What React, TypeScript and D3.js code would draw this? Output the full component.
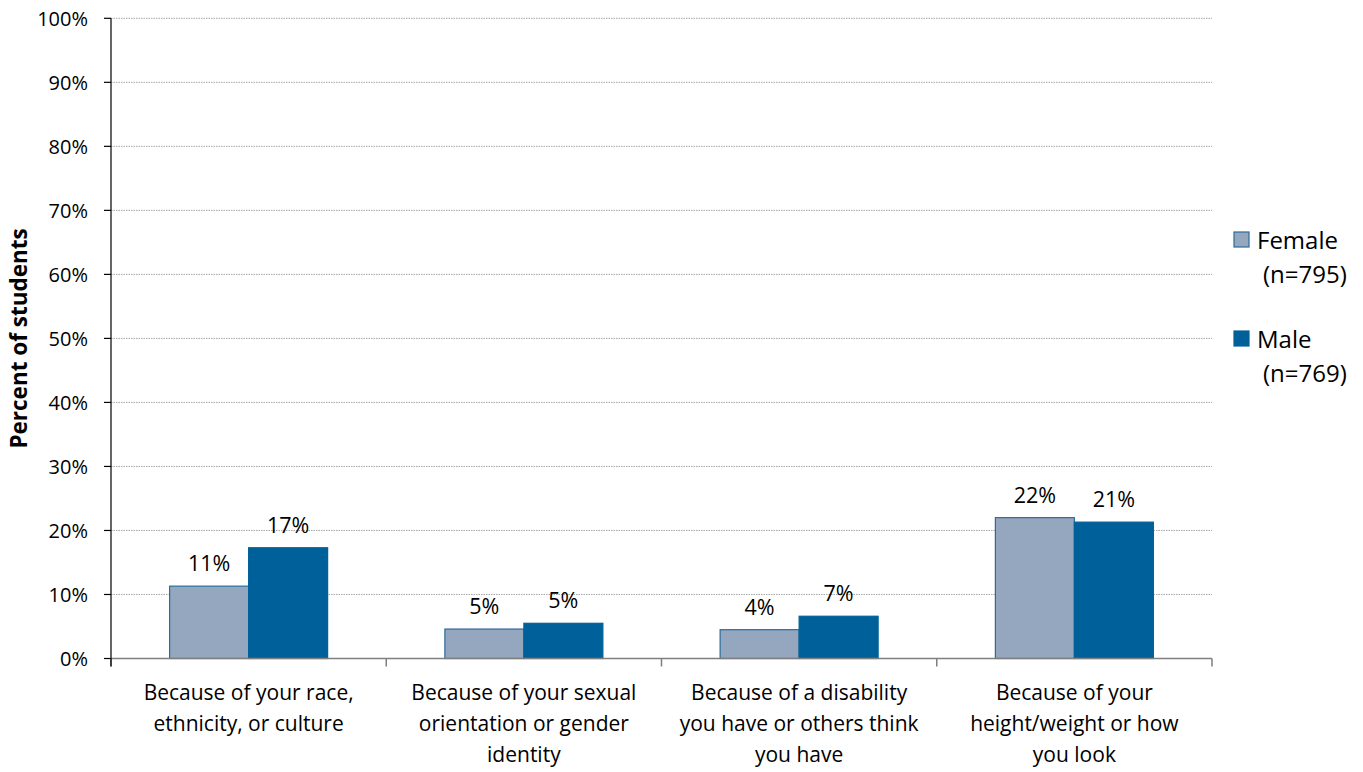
import React from "react";
import * as d3 from "d3";

const categories: string[][] = [
  ["Because of your race,", "ethnicity, or culture"],
  ["Because of your sexual", "orientation or gender", "identity"],
  ["Because of a disability", "you have or others think", "you have"],
  ["Because of your", "height/weight or how", "you look"],
];
const femaleValues = [11.3, 4.6, 4.5, 22.0];
const maleValues = [17.3, 5.5, 6.6, 21.3];
const femaleLabels = ["11%", "5%", "4%", "22%"];
const maleLabels = ["17%", "5%", "7%", "21%"];
const yTicks = [0, 10, 20, 30, 40, 50, 60, 70, 80, 90, 100];
const seriesNames = ["Female", "Male"];
const seriesN = ["(n=795)", "(n=769)"];

const FONT = "'Open Sans', sans-serif";
const FEMALE_FILL = "#95A7BE";
const FEMALE_STROKE = "#2C6A9C";
const MALE_FILL = "#00619A";

export default function App() {
  const W = 1363, H = 772;
  const left = 111, right = 1212, top = 18.3, bottom = 658.5;
  const x = d3.scaleBand<number>().domain(d3.range(categories.length)).range([left, right]).paddingInner(0).paddingOuter(0);
  const y = d3.scaleLinear().domain([0, 100]).range([bottom, top]);
  const bw = 79;
  const series = [
    { vals: femaleValues, labels: femaleLabels, fill: FEMALE_FILL, stroke: FEMALE_STROKE },
    { vals: maleValues, labels: maleLabels, fill: MALE_FILL, stroke: MALE_FILL },
  ];
  return (
    <svg width={W} height={H} style={{ position: "absolute", left: 0, top: 0, background: "#fff" }} fontFamily={FONT}>
      {yTicks.map((t) => (
        <g key={t}>
          {t > 0 && (
            <line x1={left} x2={right} y1={y(t)} y2={y(t)} stroke="#A6A6A6" strokeWidth={1} strokeDasharray="1.5,1" />
          )}
          <line x1={left - 7} x2={left} y1={y(t)} y2={y(t)} stroke="#000" strokeWidth={1.2} />
          <text x={left - 23} y={y(t)} dy="0.36em" textAnchor="end" fontSize={20} fill="#000">{t}%</text>
        </g>
      ))}
      {series.map((s, si) =>
        s.vals.map((v, i) => {
          const cx = x(i)! + x.bandwidth() / 2;
          const bx = cx - bw + si * bw;
          return (
            <g key={`${si}-${i}`}>
              <rect x={bx} y={y(v)} width={bw} height={bottom - y(v)} fill={s.fill} stroke={s.stroke} strokeWidth={1.2} />
              <text x={bx + bw / 2} y={y(v) - 15} textAnchor="middle" fontSize={21.5} fill="#000">{s.labels[i]}</text>
            </g>
          );
        })
      )}
      <line x1={left} x2={right} y1={bottom} y2={bottom} stroke="#7F7F7F" strokeWidth={1.5} />
      {d3.range(categories.length + 1).map((i) => {
        const xx = i < categories.length ? x(i)! : right;
        return <line key={i} x1={xx} x2={xx} y1={bottom} y2={bottom + 8} stroke="#7F7F7F" strokeWidth={1.5} />;
      })}
      <line x1={left} x2={left} y1={top} y2={bottom + 8} stroke="#000" strokeWidth={1.2} />
      {categories.map((lines, i) => {
        const cx = x(i)! + x.bandwidth() / 2;
        return (
          <text key={i} x={cx} textAnchor="middle" fontSize={21} fill="#000">
            {lines.map((l, j) => (
              <tspan key={j} x={cx} y={700 + j * 31}>{l}</tspan>
            ))}
          </text>
        );
      })}
      <text transform={`translate(27, ${(top + bottom) / 2}) rotate(-90)`} textAnchor="middle" fontSize={22.5} fontWeight="bold" fill="#000">
        Percent of students
      </text>
      {seriesNames.map((n, i) => {
        const yy = 232 + i * 99;
        return (
          <g key={n}>
            <rect x={1234} y={yy} width={15} height={15} fill={series[i].fill} stroke={series[i].stroke} strokeWidth={1.2} />
            <text x={1257} y={yy + 17} fontSize={24} fill="#000">{n}</text>
            <text x={1263} y={yy + 51} fontSize={24} fill="#000">{seriesN[i]}</text>
          </g>
        );
      })}
    </svg>
  );
}
